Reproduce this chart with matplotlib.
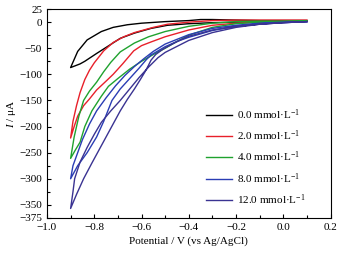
import numpy as np
import matplotlib
matplotlib.use("Agg")
import matplotlib.pyplot as plt
from matplotlib.ticker import MultipleLocator

plt.rcParams['font.family'] = ['Liberation Serif', 'DejaVu Serif']
plt.rcParams['mathtext.fontset'] = 'custom'
plt.rcParams['mathtext.rm'] = 'Liberation Serif'
plt.rcParams['mathtext.it'] = 'Liberation Serif:italic'

labels = [r"0.0 mmol·L$^{-1}$", r"2.0 mmol·L$^{-1}$", r"4.0 mmol·L$^{-1}$",
          r"8.0 mmol·L$^{-1}$", r"12.0 mmol·L$^{-1}$"]
colors = ['#000000', '#e8202a', '#1fa22e', '#2a3db4', '#3a3392']

# each curve: outer branch (tip -> 0.1) and inner branch (tip -> 0.1)
x_black_a = [-0.90, -0.87, -0.83, -0.77, -0.72, -0.66, -0.60, -0.50, -0.40, -0.35, -0.30, -0.20, -0.10, 0.00, 0.10]
y_black_a = [-87, -56, -34, -18, -10, -5, -2, 1, 3, 5, 5, 4, 3, 3, 3]
x_black_b = [-0.90, -0.86, -0.84, -0.79, -0.745, -0.69, -0.63, -0.56, -0.49, -0.40, -0.30, -0.20, -0.10, 0.00, 0.10]
y_black_b = [-87, -80, -75, -60, -47, -31, -21, -12, -6, -3, -1, 0, 0.5, 1, 2]

x_red_a = [-0.90, -0.89, -0.875, -0.86, -0.84, -0.82, -0.80, -0.76, -0.72, -0.675, -0.63, -0.55, -0.49, -0.40, -0.30, -0.20, -0.10, 0.00, 0.10]
y_red_a = [-222, -190, -160, -135, -110, -92, -78, -55, -39, -28, -20, -10, -4, 0, 3, 4, 4, 4, 4]
x_red_b = [-0.90, -0.885, -0.87, -0.845, -0.82, -0.79, -0.75, -0.72, -0.68, -0.633, -0.60, -0.56, -0.50, -0.40, -0.30, -0.20, -0.10, 0.00, 0.10]
y_red_b = [-222, -200, -180, -160, -147, -130, -113, -100, -80, -55, -45, -38, -28, -15, -6, -2, 0, 1, 2]

x_green_a = [-0.90, -0.885, -0.865, -0.845, -0.82, -0.79, -0.76, -0.73, -0.69, -0.63, -0.57, -0.50, -0.40, -0.30, -0.20, -0.10, 0.00, 0.10]
y_green_a = [-261, -220, -180, -150, -132, -115, -95, -77, -57, -40, -28, -18, -8, -2, 1, 2, 2, 2]
x_green_b = [-0.90, -0.88, -0.86, -0.84, -0.81, -0.77, -0.74, -0.70, -0.65, -0.60, -0.55, -0.50, -0.45, -0.40, -0.30, -0.20, -0.10, 0.00, 0.10]
y_green_b = [-261, -245, -230, -200, -170, -142, -123, -108, -90, -75, -62, -50, -37, -25, -10, -3, 0, 1, 2]

x_blue_a = [-0.90, -0.89, -0.87, -0.85, -0.82, -0.79, -0.75, -0.71, -0.67, -0.63, -0.59, -0.55, -0.50, -0.40, -0.30, -0.20, -0.10, 0.00, 0.10]
y_blue_a = [-300, -275, -250, -225, -195, -170, -145, -122, -102, -85, -70, -56, -42, -24, -12, -6, -2, 0, 1]
x_blue_b = [-0.90, -0.87, -0.83, -0.79, -0.76, -0.725, -0.69, -0.65, -0.61, -0.58, -0.56, -0.53, -0.50, -0.45, -0.40, -0.30, -0.20, -0.10, 0.00, 0.10]
y_blue_b = [-300, -275, -250, -220, -190, -150, -128, -108, -88, -72, -63, -55, -47, -37, -29, -16, -8, -3, -1, 1]

x_navy_a = [-0.90, -0.89, -0.883, -0.86, -0.83, -0.80, -0.77, -0.73, -0.69, -0.65, -0.61, -0.57, -0.53, -0.50, -0.40, -0.30, -0.20, -0.10, 0.00, 0.10]
y_navy_a = [-357, -325, -300, -268, -240, -215, -192, -170, -150, -128, -106, -86, -68, -58, -35, -20, -10, -4, -1, 1]
x_navy_b = [-0.90, -0.875, -0.845, -0.81, -0.78, -0.75, -0.72, -0.69, -0.66, -0.63, -0.605, -0.585, -0.572, -0.56, -0.54, -0.51, -0.47, -0.43, -0.40, -0.30, -0.20, -0.10, 0.00, 0.10]
y_navy_b = [-357, -330, -300, -270, -245, -220, -195, -170, -148, -128, -110, -95, -84, -73, -62, -52, -42, -33, -27, -15, -8, -4, -1, 1]

curves = [
    (x_black_a, y_black_a, x_black_b, y_black_b),
    (x_red_a, y_red_a, x_red_b, y_red_b),
    (x_green_a, y_green_a, x_green_b, y_green_b),
    (x_blue_a, y_blue_a, x_blue_b, y_blue_b),
    (x_navy_a, y_navy_a, x_navy_b, y_navy_b),
]

fig = plt.figure(figsize=(3.38, 2.60), dpi=100)
ax = fig.add_axes([0.139, 0.162, 0.839, 0.803])

for (xa, ya, xb, yb), c, lab in zip(curves, colors, labels):
    # loop: outer branch reversed (0.1 -> tip), then inner branch back to 0.1
    xs = list(xa[::-1]) + list(xb[1:])
    ys = list(ya[::-1]) + list(yb[1:])
    ax.plot(xs, ys, color=c, lw=1.0, label=lab)

ax.set_xlim(-1.0, 0.2)
ax.set_ylim(-375, 25)
ax.xaxis.set_major_locator(MultipleLocator(0.2))
ax.xaxis.set_minor_locator(MultipleLocator(0.1))
yt = [25, 0, -50, -100, -150, -200, -250, -300, -350, -375]
ax.set_yticks(yt)
ax.set_yticklabels(['25', '0', '\u221250', '\u2212100', '\u2212150', '\u2212200',
                    '\u2212250', '\u2212300', '\u2212350', '\u2212375'])
ax.set_yticks([-25, -75, -125, -175, -225, -275, -325], minor=True)
ax.tick_params(which='both', direction='in', top=False, right=False, labelsize=8)
ax.tick_params(which='major', length=3, width=0.8)
ax.tick_params(which='minor', length=2, width=0.8)
for s in ax.spines.values():
    s.set_linewidth(0.8)

ax.set_xlabel('Potential / V (vs Ag/AgCl)', fontsize=8, labelpad=3)
ax.set_ylabel(r'$I$ / μA', fontsize=8, labelpad=1)

ax.legend(loc='lower right', bbox_to_anchor=(0.95, 0.0), frameon=False, fontsize=8,
          handlelength=2.4, labelspacing=0.6, handletextpad=0.4, borderaxespad=0.6)

fig.savefig('out.png', dpi=100)
